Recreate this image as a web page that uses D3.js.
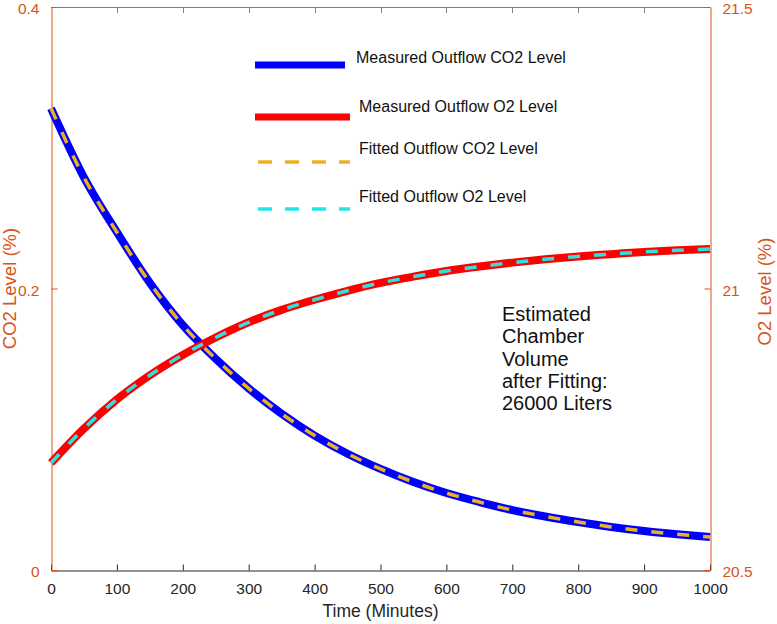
<!DOCTYPE html>
<html>
<head>
<meta charset="utf-8">
<script src="https://cdn.jsdelivr.net/npm/d3@7/dist/d3.min.js"></script>
<style>
  html, body { margin: 0; padding: 0; background: #fff; }
  svg { display: block; font-family: "Liberation Sans", Arial, sans-serif; }
</style>
</head>
<body>
<svg id="chart" width="777" height="624"></svg>
<script>
// ---- data ----
const timeMinutes = [0, 50, 100, 150, 200, 250, 300, 350, 400, 450, 500, 550, 600, 650, 700, 750, 800, 850, 900, 950, 1000];
const measuredCO2 = [0.328, 0.279, 0.240, 0.204, 0.174, 0.150, 0.129, 0.111, 0.0955, 0.0826, 0.0718, 0.0625, 0.0547, 0.0483, 0.0426, 0.0380, 0.0341, 0.0306, 0.0277, 0.0254, 0.0234];
const fittedCO2   = [0.328, 0.279, 0.240, 0.204, 0.174, 0.150, 0.129, 0.111, 0.0955, 0.0826, 0.0718, 0.0625, 0.0547, 0.0483, 0.0426, 0.0380, 0.0341, 0.0306, 0.0277, 0.0254, 0.0234];
const measuredO2  = [20.690, 20.751, 20.803, 20.846, 20.882, 20.913, 20.940, 20.962, 20.980, 20.996, 21.010, 21.021, 21.031, 21.039, 21.046, 21.052, 21.057, 21.061, 21.065, 21.068, 21.070];
const fittedO2    = [20.690, 20.751, 20.803, 20.846, 20.882, 20.913, 20.940, 20.962, 20.980, 20.996, 21.010, 21.021, 21.031, 21.039, 21.046, 21.052, 21.057, 21.061, 21.065, 21.068, 21.070];
const xTicks = [0, 100, 200, 300, 400, 500, 600, 700, 800, 900, 1000];
const yLeftTicks = [0, 0.2, 0.4];
const yRightTicks = [20.5, 21, 21.5];
const legendLabels = ["Measured Outflow CO2 Level", "Measured Outflow O2 Level", "Fitted Outflow CO2 Level", "Fitted Outflow O2 Level"];
const annotationLines = ["Estimated", "Chamber", "Volume", "after Fitting:", "26000 Liters"];

// ---- layout ----
const ORANGE = "#D95319";
const FONT = "Liberation Sans, Arial, sans-serif";
const svg = d3.select("#chart");
const L = 51, R = 710, T = 7, B = 570;
const x = d3.scaleLinear().domain([0, 1000]).range([L, R]);
const yL = d3.scaleLinear().domain([0, 0.4]).range([B, T]);
const yR = d3.scaleLinear().domain([20.5, 21.5]).range([B, T]);

// top box line
svg.append("line").attr("x1", L).attr("x2", R).attr("y1", T + 0.5).attr("y2", T + 0.5)
  .attr("stroke", "#7f7f7f").attr("stroke-width", 1);
svg.append("g").selectAll("line").data(xTicks.slice(1, -1)).join("line")
  .attr("x1", d => Math.round(x(d)) + 0.5).attr("x2", d => Math.round(x(d)) + 0.5)
  .attr("y1", T).attr("y2", T + 6).attr("stroke", "#7f7f7f");

// bottom axis
const gx = svg.append("g").attr("transform", `translate(0,${B + 0.5})`)
  .call(d3.axisBottom(x).tickValues(xTicks).tickSizeInner(-6).tickSizeOuter(0).tickPadding(12).tickFormat(d3.format("d")));
gx.select(".domain").attr("stroke", "#262626");
gx.selectAll(".tick line").attr("stroke", "#262626");
gx.selectAll("text").attr("fill", "#262626").attr("font-size", 15.5).attr("font-family", FONT);

// left axis
const gl = svg.append("g").attr("transform", `translate(${L + 0.5},0)`)
  .call(d3.axisLeft(yL).tickValues(yLeftTicks).tickSizeInner(-6).tickSizeOuter(0).tickPadding(12).tickFormat(d => d === 0 ? "0" : d3.format(".1f")(d)));
gl.select(".domain").attr("stroke", ORANGE);
gl.selectAll(".tick line").attr("stroke", ORANGE);
gl.selectAll("text").attr("fill", ORANGE).attr("font-size", 15.5).attr("font-family", FONT).attr("dy", "0.42em");

// right axis
const gr = svg.append("g").attr("transform", `translate(${R + 0.5},0)`)
  .call(d3.axisRight(yR).tickValues(yRightTicks).tickSizeInner(-6).tickSizeOuter(0).tickPadding(12).tickFormat(d => d3.format("")(d)));
gr.select(".domain").attr("stroke", ORANGE);
gr.selectAll(".tick line").attr("stroke", ORANGE);
gr.selectAll("text").attr("fill", ORANGE).attr("font-size", 15.5).attr("font-family", FONT).attr("dy", "0.42em");

// axis titles
svg.append("text").attr("x", (L + R) / 2).attr("y", 612).attr("text-anchor", "middle").attr("dominant-baseline", "middle")
  .attr("font-size", 17.5).attr("fill", "#262626").text("Time (Minutes)");
svg.append("text").attr("transform", `translate(11,${(T + B) / 2}) rotate(-90)`).attr("text-anchor", "middle").attr("dominant-baseline", "middle")
  .attr("font-size", 18.5).attr("fill", ORANGE).text("CO2 Level (%)");
svg.append("text").attr("transform", `translate(766,${(T + B) / 2 + 3}) rotate(-90)`).attr("text-anchor", "middle").attr("dominant-baseline", "middle")
  .attr("font-size", 18.5).attr("fill", ORANGE).text("O2 Level (%)");

// series
const lineCO2 = (vals) => d3.line().x((d, i) => x(timeMinutes[i])).y(d => yL(d)).curve(d3.curveMonotoneX)(vals);
const lineO2 = (vals) => d3.line().x((d, i) => x(timeMinutes[i])).y(d => yR(d)).curve(d3.curveMonotoneX)(vals);

const series = [
  { path: lineCO2(measuredCO2), color: "#0000FF", width: 8, dash: null },
  { path: lineO2(measuredO2), color: "#FF0000", width: 8, dash: null },
  { path: lineCO2(fittedCO2), color: "#EDB120", width: 3.5, dash: "12,14" },
  { path: lineO2(fittedO2), color: "#2EE0E0", width: 3.5, dash: "12,14" }
];
svg.append("g").selectAll("path").data(series).join("path")
  .attr("d", d => d.path).attr("fill", "none").attr("stroke", d => d.color)
  .attr("stroke-width", d => d.width).attr("stroke-dasharray", d => d.dash);

// legend
const legendItems = [
  { label: legendLabels[0], color: "#0000FF", width: 7, dash: null, x1: 255, x2: 345, y: 65, tx: 356, ty: 59 },
  { label: legendLabels[1], color: "#FF0000", width: 7, dash: null, x1: 255, x2: 350, y: 117, tx: 359, ty: 108 },
  { label: legendLabels[2], color: "#EDB120", width: 3.5, dash: "14,13", x1: 258, x2: 350, y: 162, tx: 359, ty: 150 },
  { label: legendLabels[3], color: "#22E5E5", width: 3.5, dash: "14,13", x1: 258, x2: 350, y: 209, tx: 359, ty: 198 }
];
const lg = svg.append("g");
lg.selectAll("line").data(legendItems).join("line")
  .attr("x1", d => d.x1).attr("x2", d => d.x2).attr("y1", d => d.y).attr("y2", d => d.y)
  .attr("stroke", d => d.color).attr("stroke-width", d => d.width).attr("stroke-dasharray", d => d.dash);
lg.selectAll("text").data(legendItems).join("text")
  .attr("x", d => d.tx).attr("y", d => d.ty).attr("dominant-baseline", "middle")
  .attr("font-size", 16).attr("fill", "#111").text(d => d.label);

// annotation
svg.append("g").selectAll("text").data(annotationLines).join("text")
  .attr("x", 502).attr("y", (d, i) => 321 + i * 22.3)
  .attr("font-size", 20).attr("fill", "#111").text(d => d);
</script>
</body>
</html>
